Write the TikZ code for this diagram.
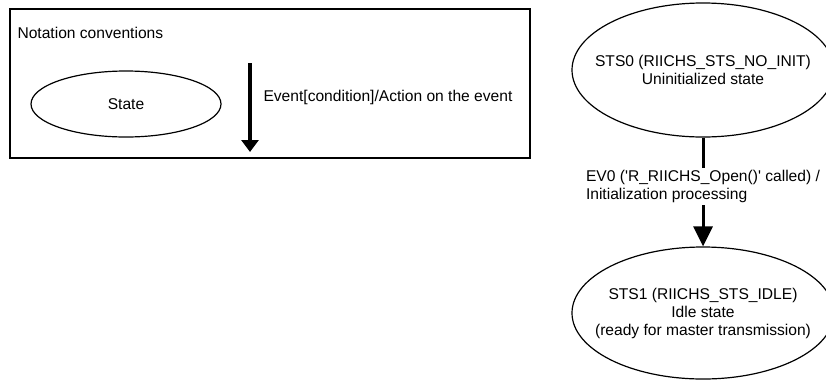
\documentclass[tikz,border=0pt]{standalone}
\usepackage{fontspec}
\setmainfont{Liberation Sans}
\usetikzlibrary{shapes.geometric,arrows.meta,positioning}
\tikzset{
    state-ellipse/.style = {draw, ellipse, line width=1.2pt, inner xsep=-20pt, inner ysep=0pt, align=center},
    notation-box/.style = {draw, rectangle, line width=1.2pt, minimum width=520pt, minimum height=149pt},
    event-arrow/.style = {line width=3pt, -{Triangle[length=20pt,width=19pt]}},
    event-label/.style = {fill=white, align=left, inner sep=2pt},
}

\begin{document}
\begin{tikzpicture}[x=1pt,y=-1pt,font=\fontsize{15.6}{18}\selectfont]
\useasboundingbox (0,0) rectangle (826,381);
% notation conventions
\node [notation-box] (legend) at (270,83.5) {};
\node [anchor=west] (legend-title) at (14,33) {Notation conventions};
\node [state-ellipse, minimum width=190pt, minimum height=66pt] (state-sample) at (126,104) {State};
\coordinate (event-top) at (250,63);
\coordinate (event-bottom) at (250,152);
\draw [event-arrow, line width=4pt, -{Triangle[length=12pt,width=17pt]}] (event-top) -- (event-bottom);
\node [anchor=west] (event-text) at (260,97) {Event[condition]/Action on the event};
% state transitions
\node [state-ellipse, minimum width=262pt, minimum height=134pt] (sts0) at (703,70) {STS0 (RIICHS\_STS\_NO\_INIT)\\Uninitialized state};
\node [state-ellipse, minimum width=262pt, minimum height=132pt] (sts1) at (703,313) {STS1 (RIICHS\_STS\_IDLE)\\Idle state\\(ready for master transmission)};
\draw [event-arrow] (sts0) -- node[event-label, pos=0.45] (ev0) {EV0 (\textquotesingle R\_RIICHS\_Open()\textquotesingle{} called) /\\Initialization processing} (sts1);
\end{tikzpicture}
\end{document}
